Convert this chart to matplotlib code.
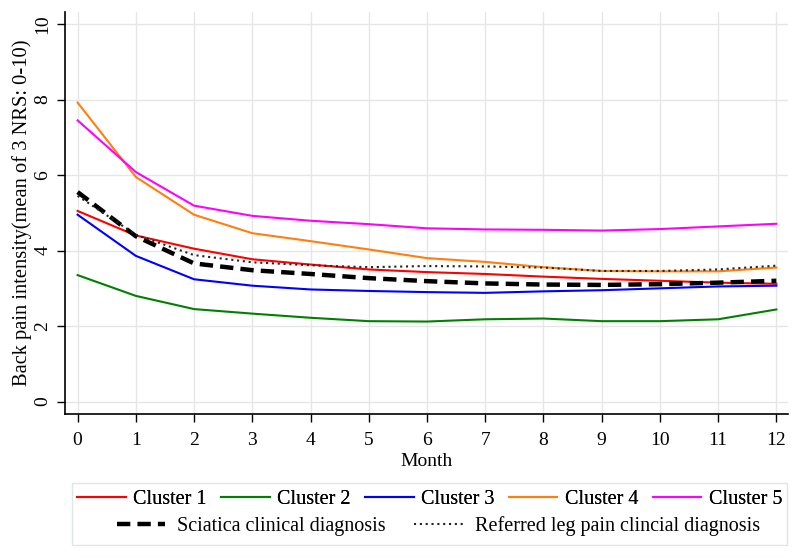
import matplotlib.pyplot as plt
from matplotlib.patches import Rectangle
from matplotlib.lines import Line2D

plt.rcParams['font.family'] = ['Liberation Serif', 'DejaVu Serif']

months = list(range(13))

# values
cluster1 = [5.05, 4.40, 4.05, 3.77, 3.63, 3.50, 3.43, 3.38, 3.31, 3.25, 3.20, 3.15, 3.12]
cluster2 = [3.35, 2.80, 2.45, 2.33, 2.22, 2.13, 2.12, 2.18, 2.20, 2.13, 2.13, 2.18, 2.44]
cluster3 = [4.95, 3.86, 3.24, 3.07, 2.97, 2.93, 2.90, 2.88, 2.92, 2.95, 3.00, 3.05, 3.07]
cluster4 = [7.92, 5.95, 4.95, 4.46, 4.25, 4.03, 3.80, 3.70, 3.56, 3.46, 3.45, 3.45, 3.55]
cluster5 = [7.45, 6.08, 5.19, 4.92, 4.79, 4.70, 4.59, 4.56, 4.55, 4.53, 4.57, 4.64, 4.71]
sciatica = [5.55, 4.38, 3.66, 3.48, 3.38, 3.27, 3.19, 3.13, 3.10, 3.09, 3.11, 3.15, 3.20]
referred = [5.45, 4.42, 3.88, 3.69, 3.61, 3.56, 3.59, 3.58, 3.55, 3.46, 3.46, 3.50, 3.60]

cluster_names = ["Cluster 1", "Cluster 2", "Cluster 3", "Cluster 4", "Cluster 5"]
cluster_colors = ["#ff0000", "#008000", "#0000ff", "#ff7f0e", "#ff00ff"]

fig = plt.figure(figsize=(8, 5.58), dpi=100)
ax = fig.add_axes([0.081, 0.258, 0.904, 0.7205])

for vals, name, col in zip([cluster1, cluster2, cluster3, cluster4, cluster5],
                           cluster_names, cluster_colors):
    ax.plot(months, vals, color=col, lw=1.5, label=name, zorder=3)
ax.plot(months, sciatica, color="black", lw=3.2, ls=(0, (3, 1.6)), zorder=4)
ax.plot(months, referred, color="#222222", lw=1.5, ls=(0, (1, 1.8)), zorder=4)

ax.set_xlim(-0.22, 12.2)
ax.set_ylim(-0.33, 10.32)
ax.set_xticks(months)
ax.set_yticks([0, 2, 4, 6, 8, 10])
ax.grid(True, color="#e6e6e6", lw=1.0, zorder=0)
ax.set_axisbelow(True)
for s in ["top", "right"]:
    ax.spines[s].set_visible(False)
for s in ["left", "bottom"]:
    ax.spines[s].set_linewidth(1.2)
ax.tick_params(axis="both", labelsize=14, length=6, width=1.0, direction="out")
ax.tick_params(axis="x", pad=7)
for lab in ax.get_yticklabels():
    lab.set_rotation(90)
    lab.set_va("center")
ax.set_xlabel("Month", fontsize=14, labelpad=3)
ax.set_ylabel("Back pain intensity(mean of 3 NRS: 0-10)", fontsize=14.8, labelpad=2)

# legend box with two rows
fig.patches.append(Rectangle((72 / 800, 1 - 545 / 558), 715 / 800, 62 / 558,
                             transform=fig.transFigure, fill=False,
                             edgecolor="#dde8e6", lw=1.0))
h1 = [Line2D([], [], color=c, lw=1.5) for c in cluster_colors]
leg1 = fig.legend(h1, cluster_names, loc="center", bbox_to_anchor=(0.537, 1 - 499 / 558),
                  ncol=5, frameon=False, fontsize=14.5, handlelength=2.4,
                  columnspacing=0.75, handletextpad=0.35)
h2 = [Line2D([], [], color="black", lw=3.2, ls=(0, (3, 1.6))),
      Line2D([], [], color="#222222", lw=1.5, ls=(0, (1, 1.8)))]
leg2 = fig.legend(h2, ["Sciatica clinical diagnosis", "Referred leg pain clincial diagnosis"],
                  loc="center", bbox_to_anchor=(0.548, 1 - 526 / 558), ncol=2,
                  frameon=False, fontsize=14.5, handlelength=2.4,
                  columnspacing=1.4, handletextpad=0.6)
fig.add_artist(leg1)

fig.savefig("out.png", dpi=100)
